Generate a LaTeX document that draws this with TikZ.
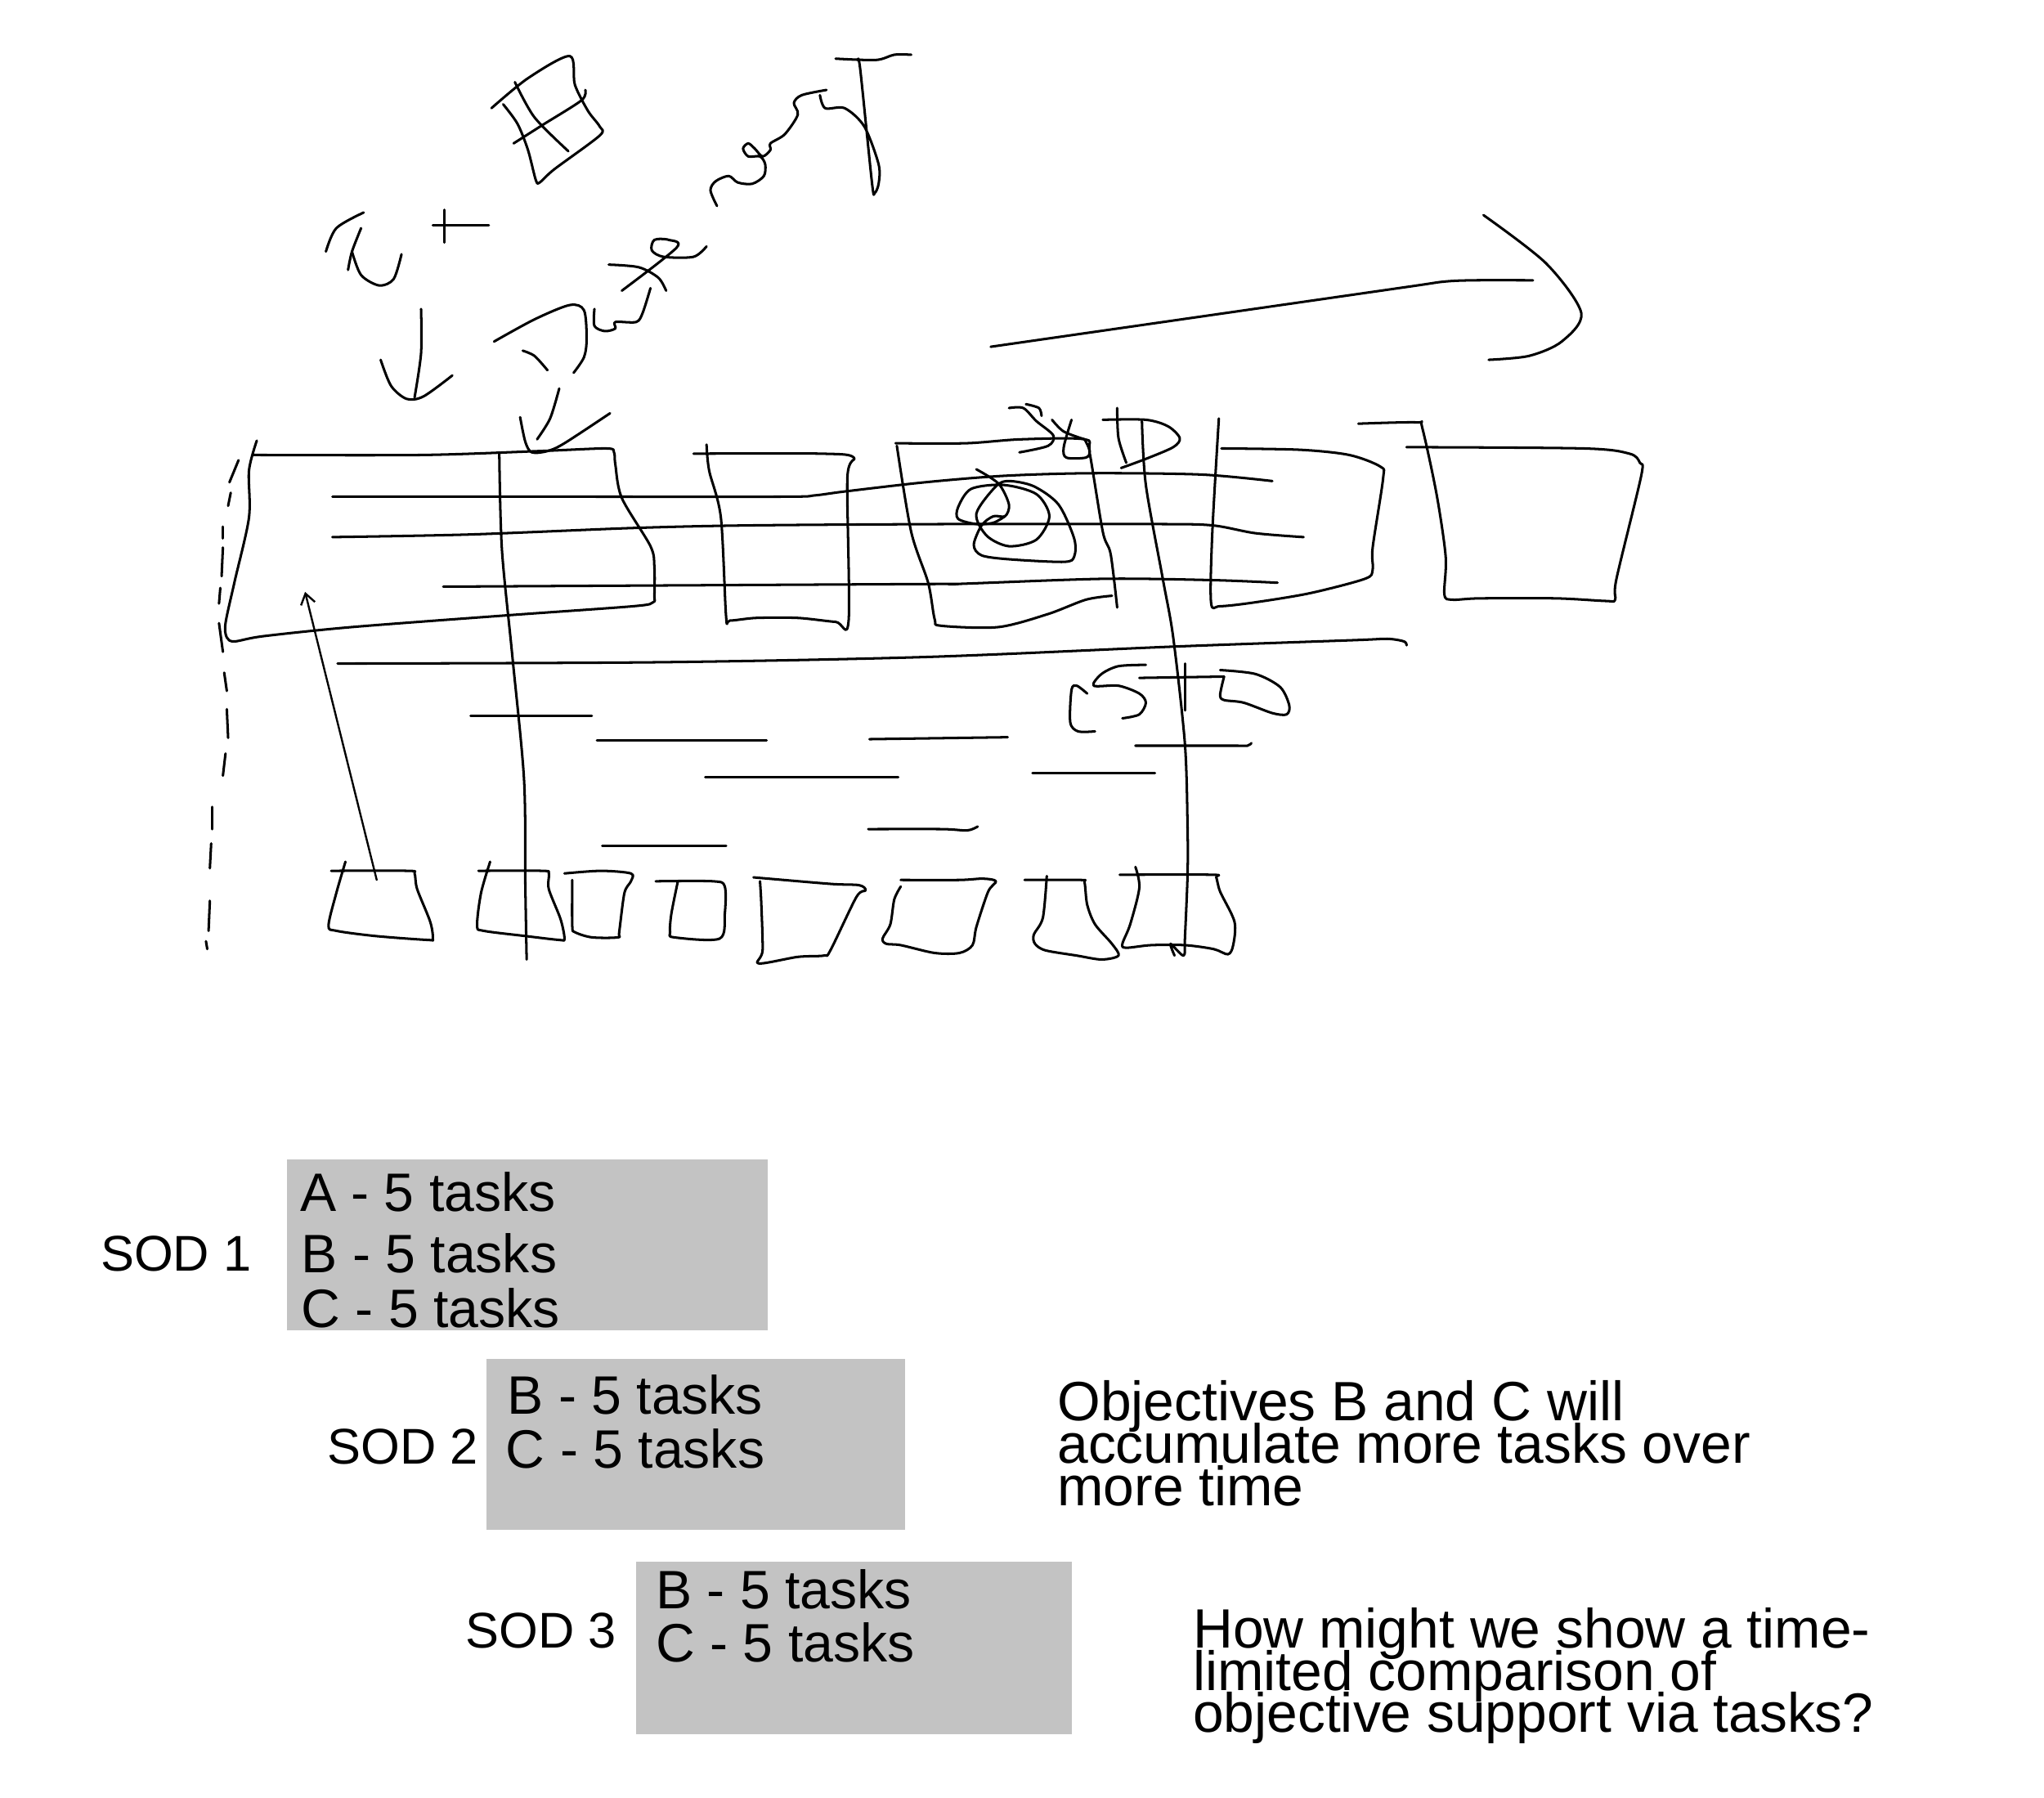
\documentclass[tikz,border=0pt]{standalone}
\usepackage{fontspec}
\setmainfont{Liberation Sans}
\usetikzlibrary{arrows.meta}
\definecolor{colTask}{RGB}{195, 195, 195}
\setlength{\lineskiplimit}{-100pt}
\newcommand{\penline}[1]{\draw[pen] plot[smooth, tension=0.5] coordinates {#1};}

\begin{document}
\begin{tikzpicture}[
  x=1pt, y=-1pt,
  >={Straight Barb[length=8pt, width=11pt]},
  pen/.style={line width=1.9pt, line cap=round, line join=round},
  word/.style={font=\fontsize{41.5}{44}\selectfont, inner sep=0pt, anchor=base west},
  sodlabel/.style={font=\fontsize{38.5}{44}\selectfont, inner sep=0pt, anchor=base west},
  note/.style={font=\fontsize{42.5}{32.5}\selectfont, inner sep=0pt, anchor=north west, align=left},
  taskbox/.style={fill=colTask, inner sep=0pt, anchor=north west}
]
\useasboundingbox (0,0) rectangle (1568,1378.6);

% ---------- top scribbles ----------
\penline{(377,83) (405,60) (437,43) (441,65) (451,85) (460,97) (460,104) (425,130) (414,140) (411,138) (405,115) (397,95) (386,80)}
\penline{(395,63) (410,90) (436,116)}
\penline{(394,110) (416,96) (446,77) (449,69)}
\draw[pen] (341,161) -- (341,186);
\draw[pen] (332,173) -- (375,173);
\penline{(279,163) (258,175) (250,193)}
\penline{(277,175) (270,193) (267,207)}
\penline{(270,193) (277,211) (291,219) (302,214) (308,195)}
\penline{(323,237) (323,271) (318,305)}
\penline{(292,276) (300,296) (312,306) (325,304) (347,288)}
\penline{(379,262) (410,245) (437,234) (448,238) (450,260) (448,274) (440,286)}
\penline{(401,269) (410,273) (420,284)}
\penline{(429,298) (422,321) (412,337)}
\penline{(399,320) (403,339) (408,347) (420,346) (433,340) (468,317)}
\penline{(456,237) (456,250) (464,254) (472,252) (472,247) (488,247) (493,240) (499,221)}
\penline{(477,223) (519,190) (513,184) (502,184) (500,192) (509,197) (532,197) (542,189)}
\penline{(467,203) (490,205) (505,213) (511,223)}
\penline{(550,158) (545,146) (549,139) (559,135) (566,140) (577,141) (586,135) (587,126) (583,120) (574,120) (570,114) (574,110) (579,114) (585,120) (591,115) (591,110) (602,103) (612,88) (609,79) (615,73) (634,69)}
\penline{(629,73) (633,83) (648,83) (663,97) (674,126) (674,141) (671,148) (669,141) (660,54) (658,46)}
\penline{(641,45) (672,46) (686,42) (699,42)}

% big arrow
\penline{(760,266) (934,241) (1080,220) (1108,216) (1131,215) (1176,215)}
\penline{(1138,165) (1186,202) (1213,240) (1198,262) (1173,273) (1142,276)}

% ---------- large boxes ----------
\penline{(197,338) (191,361) (191,397) (180,446) (173,478) (174,489) (180,492) (202,488) (270,481) (389,472) (486,465) (501,462) (502,457) (502,435) (499,419) (477,382) (472,356) (471,347) (465,344) (414,346) (324,349) (194,349)}
\penline{(542,341) (544,361) (553,397) (557,473) (560,476) (580,474) (612,474) (641,477) (651,476) (650,367) (655,351) (630,348) (532,348)}
\penline{(687,340) (741,340) (783,337) (832,337) (836,348) (846,408) (852,425) (857,466)}
\penline{(688,342) (699,408) (712,447) (717,475) (722,480) (766,481) (804,471) (833,460) (853,457)}
\penline{(935,321) (930,408) (929,462) (936,465) (963,462) (1005,455) (1047,444) (1053,437) (1053,420) (1061,367) (1059,358) (1035,349) (997,345) (937,344)}
\penline{(1042,325) (1087,324) (1091,328) (1102,379) (1109,427) (1108,456) (1114,460) (1135,459) (1194,459) (1232,461) (1239,460) (1240,444) (1259,365) (1258,355) (1250,348) (1215,344) (1079,343)}

% spiral
\penline{(749,360) (766,371) (774,387) (771,396) (762,396) (753,403) (747,418) (753,426) (774,429) (816,431) (824,427) (824,413) (812,387) (793,373) (774,369) (764,373) (749,394) (757,411) (774,419) (795,414) (805,396) (795,379) (770,372) (745,375) (735,389) (735,398) (749,402) (762,401) (771,396)}

% Sy and D over the third box
\penline{(787,310) (797,313) (799,319)}
\penline{(774,313) (785,313) (795,323) (808,334) (804,342) (782,347)}
\penline{(807,322) (816,331) (832,337)}
\penline{(822,322) (816,343) (818,351) (833,351) (836,346) (832,337)}
\penline{(857,313) (858,336) (864,355)}
\penline{(846,322) (879,322) (896,327) (905,336) (900,343) (879,352) (860,359)}

% ---------- long lines ----------
\penline{(255,381) (430,381) (601,381) (625,380) (648,377) (709,370) (770,365) (837,363) (921,364) (976,369)}
\penline{(255,412) (360,410) (486,405) (576,403) (730,402) (887,402) (930,403) (963,409) (1000,412)}
\penline{(340,450) (709,448) (732,448) (846,444) (930,445) (980,447)}
\penline{(259,509) (504,508) (709,504) (900,496) (1040,491) (1064,490) (1077,492) (1079,495)}
\penline{(383,347) (385,421) (393,503) (402,598) (403,680) (404,736)}
\penline{(876,323) (879,372) (892,444) (900,489) (909,571) (911,635) (911,671) (909,719) (908,733) (898,724) (901,733)}

% ---------- short lines ----------
\draw[pen] (361,549) -- (454,549);
\draw[pen] (458,568) -- (588,568);
\draw[pen] (541,596) -- (689,596);
\draw[pen] (462,649) -- (557,649);
\draw[pen] (667,567) -- (773,565.5);
\draw[pen] (792,593) -- (886,593);
\penline{(871,572) (947,572) (957,572) (960,570)}
\penline{(666,636) (723,636) (742,637) (750,634)}

% ---------- STD ----------
\penline{(879,510) (858,511) (845,517) (839,526) (858,526) (874,532) (879,539) (874,548) (861,551)}
\penline{(834,532) (826,526) (822,529) (821,554) (827,561) (840,561)}
\draw[pen] (874,520) -- (939,519);
\draw[pen] (909,509) -- (909,545);
\penline{(939,519) (936,533) (939,537) (954,539) (976,547) (987,548) (989,541) (982,527) (963,517) (936,514)}

% ---------- small boxes ----------
\penline{(265,661) (258,685) (252,710) (258,714) (288,718) (328,721) (332,720) (330,707) (320,682) (318,670) (313,668) (254,668)}
\penline{(376,661) (369,685) (366,710) (371,714) (403,718) (429,721) (433,720) (430,705) (421,682) (421,670) (416,668) (367,668)}
\penline{(433,670) (461,668) (484,670) (484,676) (479,685) (475,715) (474,719) (454,719) (441,715) (439,710) (439,675)}
\penline{(503,676) (547,676) (556,680) (556,701) (552,720) (517,719) (514,715) (515,701) (520,676)}
\penline{(578,673) (637,678) (659,679) (664,683) (657,688) (637,729) (632,733) (612,734) (582,739) (585,729) (584,693) (583,676)}
\penline{(691,675) (736,675) (754,674) (764,676) (758,684) (749,711) (746,725) (736,731) (717,731) (691,725) (680,724) (677,720) (683,709) (686,690) (691,680)}
\penline{(786,675) (829,675) (832,677) (834,694) (840,709) (853,724) (858,733) (845,736) (826,733) (802,729) (794,724) (793,717) (800,704) (803,672)}
\penline{(859,671) (930,671) (933,673) (936,684) (947,707) (946,725) (942,732) (931,728) (909,725) (883,725) (864,727) (861,724) (867,709) (874,681) (871,665)}

% arrow into first box
\coordinate (arrowStart) at (289,675);
\coordinate (arrowEnd) at (234,454);
\draw[pen, line width=1.5pt, ->] (arrowStart) -- (arrowEnd);

% dashes at the left
\foreach \xa/\ya/\xb/\yb in {183/353/176/370, 177/378/175/388, 171/404/171/413, 171/420/170/442,
    169/451/168/463, 168/478/171/500, 172/516/174/530, 174/544/175/566, 173/578/171/595,
    163/619/163/636, 162/647/161/666, 161/691/160/714, 158/722/159/728}
  \draw[pen] (\xa,\ya) -- (\xb,\yb);

% ---------- grey boxes ----------
\node[taskbox, minimum width=369pt, minimum height=131pt] (sod1box) at (220,889) {};
\node[taskbox, minimum width=321pt, minimum height=131pt] (sod2box) at (373,1042) {};
\node[taskbox, minimum width=334pt, minimum height=132pt] (sod3box) at (488,1198) {};

% ---------- labels ----------
\node[sodlabel] (sod1) at (77,975)   {SOD 1};
\node[sodlabel] (sod2) at (251,1123) {SOD 2};
\node[sodlabel] (sod3) at (357,1264) {SOD 3};

\node[word] (t1a) at (230,929)  {A - 5 tasks};
\node[word] (t1b) at (231,976)  {B - 5 tasks};
\node[word] (t1c) at (231,1018) {C - 5 tasks};
\node[word] (t2b) at (389,1085) {B - 5 tasks};
\node[word] (t2c) at (388,1126) {C - 5 tasks};
\node[word] (t3b) at (503,1234) {B - 5 tasks};
\node[word] (t3c) at (503,1275) {C - 5 tasks};

\node[note] (noteB) at (811,1059) {Objectives B and C will\\accumulate more tasks over\\more time};
\node[note] (noteQ) at (915,1233) {How might we show a time-\\limited comparison of\\objective support via tasks?};

\end{tikzpicture}
\end{document}
